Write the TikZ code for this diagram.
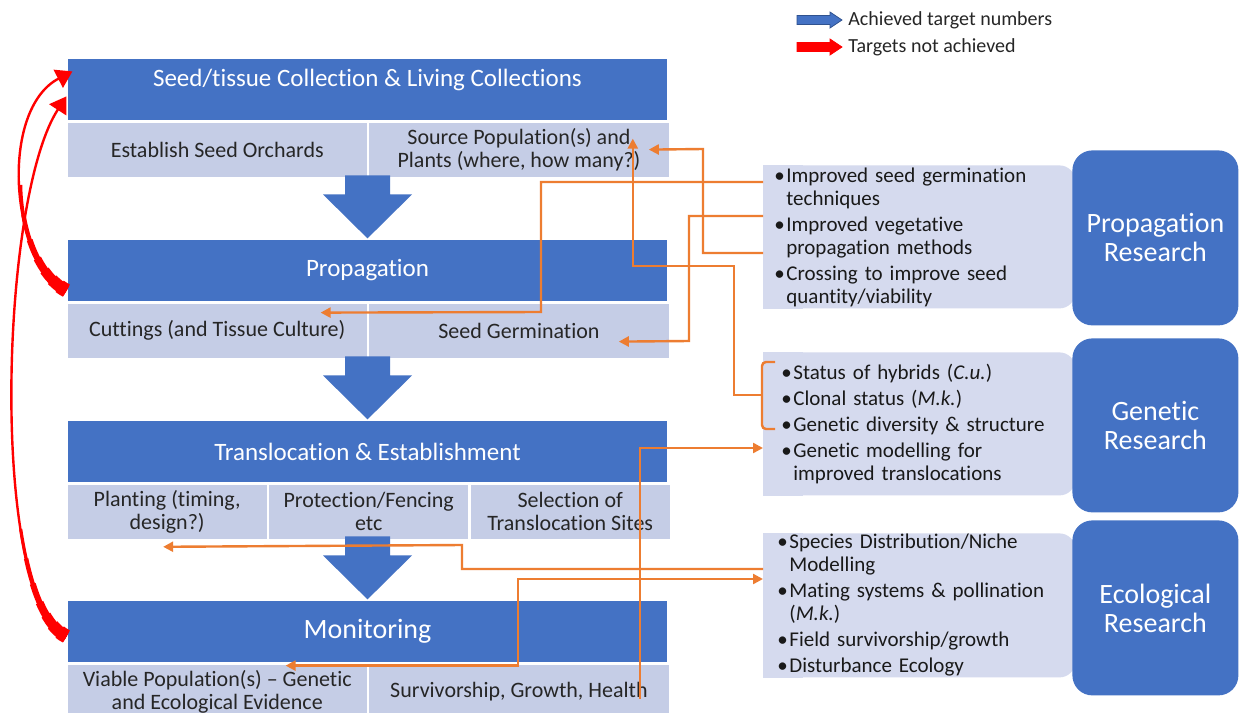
\documentclass[tikz,border=0pt]{standalone}
\usepackage{fontspec}
\setmainfont{Carlito}[Ligatures={TeX,NoCommon,NoContextual},Contextuals=NoAlternate]
\usetikzlibrary{positioning,arrows.meta,backgrounds}

\definecolor{dblue}{HTML}{4472C4}
\definecolor{cellblue}{HTML}{C5CDE6}
\definecolor{listblue}{HTML}{D5DAEE}
\definecolor{linkorange}{HTML}{ED7D31}
\definecolor{legendedge}{HTML}{2F528F}

\newcommand{\itm}{\makebox[6pt][l]{\textbullet}}
\newcommand{\itc}{\hspace*{6pt}}

\begin{document}
\begin{tikzpicture}[x=0.5pt,y=-0.5pt]
    \tikzstyle{every node}=[inner sep=0pt]
    \tikzstyle{stagehead}=[fill=dblue, draw=white, line width=0.6pt, minimum width=300.5pt, minimum height=31.5pt, text=white, font=\fontsize{12.5}{13}\selectfont]
    \tikzstyle{stagecell}=[fill=cellblue, draw=white, line width=0.6pt, minimum height=27.5pt, align=center, text=black!85, font=\fontsize{11}{11.5}\selectfont]
    \tikzstyle{twocell}=[stagecell, minimum width=150.25pt]
    \tikzstyle{threecell}=[stagecell, minimum width=100.1667pt]
    \tikzstyle{stagearrow}=[fill=dblue]
    \tikzstyle{itemlist}=[fill=listblue, rounded corners=8pt, anchor=north west, inner xsep=5.5pt, text width=145pt, align=left, text=black!90, font=\fontsize{10.5}{11.5}\selectfont]
    \tikzstyle{research}=[fill=dblue, rounded corners=10pt, anchor=north west, minimum width=83pt, align=center, text=white, font=\fontsize{14}{14.5}\selectfont]
    \tikzstyle{feedline}=[draw=linkorange, line width=1.2pt]
    \tikzstyle{redline}=[draw=red, line width=1.2pt]
    \tikzstyle{legtext}=[anchor=west, text=black!85, font=\fontsize{10}{11}\selectfont]

    \useasboundingbox (0,0) rectangle (1239,713);

    % the four stages
    \node[stagehead, text depth=12pt] (seedhead) at (367.5,89.5) {Seed/tissue Collection \& Living Collections};
    \node[twocell, below right=0pt and 0pt of seedhead.south west] (seedorch) {Establish Seed Orchards};
    \node[twocell, right=0pt of seedorch] (seedsrc) {Source Population(s) and\\Plants (where, how many?)};

    \node[stagehead] (prophead) at (367.5,270.5) {Propagation};
    \node[twocell, below right=0pt and 0pt of prophead.south west] (propcut) {Cuttings (and Tissue Culture)};
    \node[twocell, right=0pt of propcut] (propgerm) {Seed Germination};

    \node[stagehead] (transhead) at (367.5,451.5) {Translocation \& Establishment};
    \node[threecell, below right=0pt and 0pt of transhead.south west] (transplant) {Planting (timing,\\design?)};
    \node[threecell, right=0pt of transplant] (transfence) {Protection/Fencing\\etc};
    \node[threecell, right=0pt of transfence] (transsite) {Selection of\\Translocation Sites};

    \node[stagehead, font=\fontsize{14}{15}\selectfont] (monhead) at (367.5,631.5) {Monitoring};
    \node[twocell, below right=0pt and 0pt of monhead.south west] (monviable) {Viable Population(s) – Genetic\\and Ecological Evidence};
    \node[twocell, right=0pt of monviable] (monsurv) {Survivorship, Growth, Health};

    \foreach \n in {prophead,transhead,monhead}
        \fill[stagearrow] (\n.north) -- ++(-22.25pt,22pt) -- ++(11pt,0) -- ++(0,9.5pt) -- ++(22.5pt,0) -- ++(0,-9.5pt) -- ++(11pt,0) -- cycle;

    % research lists
    \node[itemlist, minimum height=71.5pt] (pitems) at (763,165) {
        \itm Improved seed germination\\
        \itc techniques\\[1.5pt]
        \itm Improved vegetative\\
        \itc propagation methods\\[1.5pt]
        \itm Crossing to improve seed\\
        \itc quantity/viability};
    \node[itemlist, minimum height=71.5pt, inner xsep=9pt, text width=138pt] (gitems) at (763,352) {
        \itm Status of hybrids (\textit{C.u.})\\[1.5pt]
        \itm Clonal status (\textit{M.k.})\\[1.5pt]
        \itm Genetic diversity \& structure\\[1.5pt]
        \itm Genetic modelling for\\
        \itc improved translocations};
    \node[itemlist, minimum height=72pt, inner xsep=7pt, text width=142pt] (eitems) at (763,533) {
        \itm Species Distribution/Niche\\
        \itc Modelling\\[1.5pt]
        \itm Mating systems \& pollination\\
        \itc (\textit{M.k.})\\[1.5pt]
        \itm Field survivorship/growth\\[1.5pt]
        \itm Disturbance Ecology};

    \node[research, minimum height=87.5pt] (presearch) at (1072,150) {Propagation\\Research};
    \node[research, minimum height=87pt] (gresearch) at (1072,338) {Genetic\\Research};
    \node[research, minimum height=87.5pt] (eresearch) at (1072,520) {Ecological\\Research};

    \begin{scope}[on background layer]
        \fill[white] (0,0) rectangle (1239,713);
        \foreach \n in {pitems,gitems,eitems}
            \fill[listblue] (\n.south west) rectangle ([xshift=20pt]\n.north west);
    \end{scope}

    % legend
    \node[legtext] (achieved) at (848,20) {Achieved target numbers};
    \node[legtext] (notachieved) at (848,47) {Targets not achieved};
    \foreach \n/\c/\e in {achieved/dblue/legendedge, notachieved/red/red}
        \filldraw[fill=\c, draw=\e, line width=0.4pt] ([xshift=-25.5pt,yshift=2.25pt]\n.west) -- ++(16.5pt,0) -- ++(0,1.75pt) -- ++(6pt,-4pt) -- ++(-6pt,-4pt) -- ++(0,1.75pt) -- ++(-16.5pt,0) -- cycle;

    % targets not achieved: back to collection
    \foreach \w/\l in {7pt/4pt, 6pt/9pt, 5pt/15pt, 4pt/22pt, 3pt/32pt, 2.2pt/45pt, 1.6pt/60pt} {
        \draw[redline, line width=\w, dash pattern=on \l off 3000pt] ([yshift=6pt]prophead.south west) .. controls +(-57,-30) and +(-73,38) .. ([shift={(6,14)}]seedhead.north west);
        \draw[redline, line width=\w, dash pattern=on \l off 3000pt] ([shift={(0,37)}]monhead.north west) .. controls +(-77,-37) and +(-67,103) .. ([shift={(0,39)}]seedhead.north west);
    }
    \draw[redline, -{Triangle[length=8pt,width=10pt]}] ([yshift=6pt]prophead.south west) .. controls +(-57,-30) and +(-73,38) .. ([shift={(6,14)}]seedhead.north west);
    \draw[redline, -{Triangle[length=8pt,width=10pt]}] ([shift={(0,37)}]monhead.north west) .. controls +(-77,-37) and +(-67,103) .. ([shift={(0,39)}]seedhead.north west);

    % research feeding the stages
    \draw[feedline, -{Triangle[length=5pt,width=5pt]}] ([shift={(0,17)}]pitems.north west) -| (541,312) -- ([shift={(-47.5,10)}]propcut.north east);
    \draw[feedline, -{Triangle[length=5pt,width=5pt]}] ([shift={(0,51)}]pitems.north west) -| (689,341) -- ([shift={(-51,39)}]propgerm.north east);
    \draw[feedline, -{Triangle[length=5pt,width=5pt]}] ([shift={(0,88)}]pitems.north west) -| (703,149) -- ([shift={(-21,28)}]seedsrc.north east);
    \draw[feedline, rounded corners=2pt] ([shift={(12,10)}]gitems.north west) -- ++(-13,0) -- ++(0,67) -- ++(13,0);
    \draw[feedline, -{Triangle[length=5pt,width=5pt]}] ([shift={(-1,43)}]gitems.north west) -| (734,266) -| ([shift={(-37,17)}]seedsrc.north east);
    \draw[feedline, -{Triangle[length=5pt,width=5pt]}] ([shift={(-30,35)}]monsurv.north east) |- ([shift={(0,96)}]gitems.north west);
    \draw[feedline, -{Triangle[length=5pt,width=5pt]}] ([shift={(0,36)}]eitems.north west) -| (462,545) -- ([shift={(-4,7)}]transplant.south);
    \draw[feedline, {Triangle[length=5pt,width=5pt]}-{Triangle[length=5pt,width=5pt]}] ([shift={(-82.5,2)}]monviable.north east) -| (518,579) -- ([shift={(0,46)}]eitems.north west);
\end{tikzpicture}
\end{document}
